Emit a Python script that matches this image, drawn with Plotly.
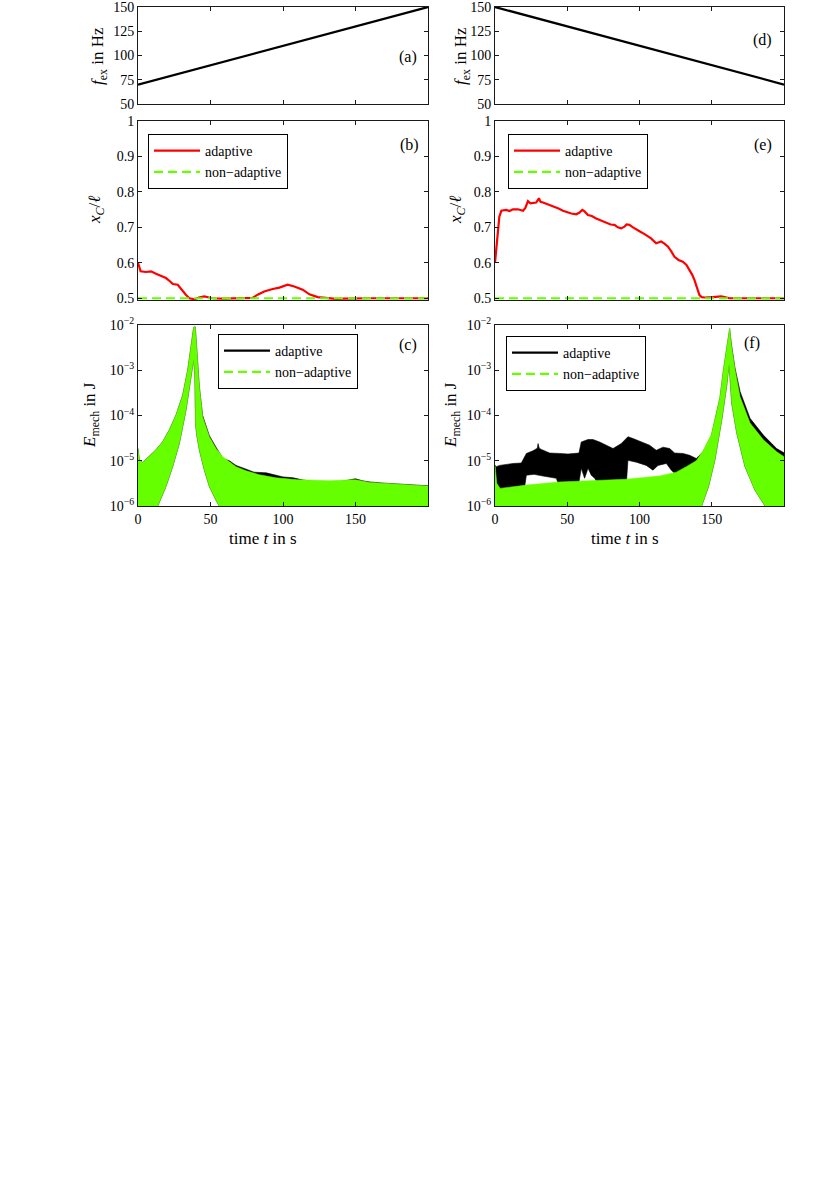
import plotly.graph_objects as go

# ---------------- data ----------------
t_sweep = [0, 200]
f_up = [70, 150]
f_down = [150, 70]

t_nonad = [0, 200]
xc_nonad = [0.5, 0.5]

t_xc_b = [0, 1.8, 5.5, 9, 12.4, 15.9, 19.3, 22, 24, 27.4, 30.8, 33, 35.4, 38.9, 42, 45.7, 49,
          51.5, 58.4, 67.6, 75, 79, 82.5, 87, 92.9, 97.5, 103.2, 107.8, 113.6, 118.2, 123.9,
          129.7, 136.6, 142, 148, 159.5, 175, 200]
xc_b = [0.600, 0.576, 0.574, 0.576, 0.569, 0.564, 0.557, 0.548, 0.540, 0.538, 0.519, 0.510,
        0.500, 0.497, 0.502, 0.505, 0.502, 0.500, 0.499, 0.499, 0.500, 0.501, 0.510, 0.519,
        0.526, 0.530, 0.538, 0.533, 0.524, 0.511, 0.503, 0.500, 0.498, 0.499, 0.500, 0.500,
        0.500, 0.500]

t_xc_e = [0, 1, 2, 3, 4.4, 7.8, 10, 12.4, 15.9, 19.4, 21, 22.8, 24.5, 26.3, 28.5, 30.4, 31.5,
          33.2, 36, 40, 44, 47, 50, 52.8, 56.2, 58.5, 60.4, 62, 64.3, 67, 70, 73, 77, 80, 82.7,
          85, 87.3, 89.6, 91, 93, 95.5, 97.7, 100, 103.5, 108, 111.5, 113, 115, 117, 119.6, 122,
          124.2, 127, 130, 132.5, 134.6, 136.5, 138, 140, 141.5, 143, 145, 150.7, 156.5, 159,
          162.2, 170, 200]
xc_e = [0.600, 0.650, 0.692, 0.730, 0.747, 0.749, 0.746, 0.751, 0.751, 0.747, 0.755, 0.774,
        0.768, 0.768, 0.770, 0.782, 0.772, 0.770, 0.766, 0.760, 0.753, 0.747, 0.742, 0.739,
        0.737, 0.742, 0.749, 0.745, 0.735, 0.732, 0.725, 0.720, 0.713, 0.708, 0.707, 0.700,
        0.697, 0.702, 0.708, 0.707, 0.700, 0.694, 0.689, 0.681, 0.669, 0.655, 0.657, 0.660,
        0.655, 0.646, 0.632, 0.617, 0.608, 0.603, 0.594, 0.580, 0.566, 0.552, 0.528, 0.509,
        0.503, 0.502, 0.503, 0.505, 0.503, 0.500, 0.500, 0.500]

# panel (c): envelopes of the mechanical energy
t_c_green_top = [0, 0.9, 3.2, 7.8, 12.4, 17, 21.6, 26.2, 30.8, 34.3, 36.6, 38.4, 39.5, 40.5,
                 42.3, 44.6, 49.2, 53.8, 58.4, 63, 67.6, 74.5, 83.7, 95, 110, 132, 150, 160,
                 180, 200]
E_c_green_top = [1.86e-5, 1.05e-5, 9.1e-6, 1.23e-5, 1.74e-5, 2.63e-5, 4.8e-5, 1.02e-4, 2.8e-4,
                 1.02e-3, 3.3e-3, 8.9e-3, 9.1e-3, 2.8e-3, 4.4e-4, 9.3e-5, 3.4e-5, 1.86e-5,
                 1.23e-5, 9.5e-6, 7.4e-6, 6.0e-6, 4.9e-6, 4.2e-6, 3.8e-6, 3.6e-6, 3.8e-6,
                 3.3e-6, 3.0e-6, 2.75e-6]
t_c_black_top = [0, 0.9, 3.2, 7.8, 12.4, 17, 21.6, 26.2, 30.8, 34.3, 36.6, 38.4, 39.5, 40.5,
                 42.3, 44.6, 49.2, 53.8, 58.6, 63, 67.6, 74.7, 80, 88.5, 95.4, 100, 107, 113,
                 120.7, 128, 134.5, 140, 145, 150, 155, 160, 170, 185, 200]
E_c_black_top = [1.86e-5, 1.05e-5, 9.1e-6, 1.23e-5, 1.74e-5, 2.63e-5, 4.8e-5, 1.02e-4, 2.8e-4,
                 1.02e-3, 3.3e-3, 8.9e-3, 9.1e-3, 2.8e-3, 4.4e-4, 1.0e-4, 3.6e-5, 2.0e-5,
                 1.12e-5, 1.0e-5, 7.9e-6, 6.5e-6, 5.6e-6, 5.4e-6, 4.7e-6, 4.4e-6, 4.2e-6,
                 3.8e-6, 3.5e-6, 3.4e-6, 3.2e-6, 3.5e-6, 3.7e-6, 4.0e-6, 3.6e-6, 3.4e-6,
                 3.2e-6, 2.95e-6, 2.8e-6]
t_c_bottom = [0, 13.6, 16.5, 19.3, 23.9, 28.5, 33.1, 36.6, 38.4, 39.2, 39.7, 40.6, 42.3, 45.7,
              49.2, 53.8, 56, 200]
E_c_bottom = [1e-6, 1e-6, 1.58e-6, 2.7e-6, 7.4e-6, 2.4e-5, 1.32e-4, 7.2e-4, 1.78e-3, 7.9e-4,
              6.3e-5, 3.55e-5, 1.74e-5, 6.3e-6, 2.7e-6, 1.35e-6, 1e-6, 1e-6]

# panel (f): envelopes of the mechanical energy
t_f_green_top = [0, 1.2, 3.5, 21.9, 44.8, 67.8, 91, 114, 125.5, 132.4, 139.3, 144, 149.7,
                 153.2, 155.7, 158, 160.6, 162.4, 163.6, 166.1, 169.6, 176.5, 185.7, 194.9, 200]
E_f_green_top = [8.1e-6, 3.2e-6, 2.45e-6, 2.9e-6, 3.4e-6, 3.6e-6, 3.9e-6, 4.6e-6, 5.6e-6,
                 7.4e-6, 1.0e-5, 1.66e-5, 3.8e-5, 1.12e-4, 2.6e-4, 1.0e-3, 4.0e-3, 8.5e-3,
                 3.55e-3, 1.02e-3, 2.6e-4, 6.8e-5, 2.9e-5, 1.58e-5, 1.23e-5]
t_f_green_bottom = [0, 143, 147.8, 152.2, 156.9, 160.3, 162.0, 162.6, 163.8, 167.3, 173,
                    179.9, 186.9, 200]
E_f_green_bottom = [1e-6, 1e-6, 2.7e-6, 1.05e-5, 7.9e-5, 4.4e-4, 1.4e-3, 7.2e-4, 1.86e-4,
                    4.1e-5, 7.4e-6, 2.24e-6, 1e-6, 1e-6]
t_f_black_top = [0, 0.9, 3.2, 7.8, 12.5, 18.2, 20, 21.7, 26.3, 29.3, 29.8, 30.6, 32.1, 37.8,
                 44.8, 50.5, 58.1, 59.7, 64.4, 67.8, 72.4, 77, 81.7, 87.4, 92, 95.5, 101.3, 107,
                 111.6, 116.3, 120.9, 124.3, 130.1, 134.7, 139.3, 142.8, 144, 149.7, 153.2,
                 155.7, 158, 160.6, 162.4, 163.6, 166.1, 169.6, 176.5, 185.7, 194.9, 200]
E_f_black_top = [8.1e-6, 7.4e-6, 7.9e-6, 8.3e-6, 8.7e-6, 8.9e-6, 1.12e-5, 1.45e-5, 1.66e-5,
                 1.9e-5, 2.4e-5, 1.9e-5, 1.78e-5, 1.48e-5, 1.45e-5, 1.41e-5, 1.48e-5, 2.6e-5,
                 2.95e-5, 2.95e-5, 2.6e-5, 2.2e-5, 1.86e-5, 2.4e-5, 3.4e-5, 3.1e-5, 2.6e-5,
                 2.2e-5, 1.7e-5, 2.0e-5, 1.86e-5, 1.48e-5, 1.45e-5, 1.32e-5, 1.12e-5, 1.45e-5,
                 1.58e-5, 3.55e-5, 1.07e-4, 2.5e-4, 9.5e-4, 3.8e-3, 8.3e-3, 3.8e-3, 1.12e-3,
                 3.4e-4, 8.7e-5, 3.7e-5, 1.86e-5, 1.5e-5]
t_f_black_bottom = [0, 20, 21.7, 27, 33.2, 42.4, 44, 58, 59.7, 62, 64.4, 66.6, 69, 71, 91, 92,
                    97.8, 104.7, 109.3, 112.8, 118.6, 122, 125, 130, 143, 147.8, 152.2, 156.9,
                    160.3, 162.0, 162.6, 163.8, 167.3, 173, 179.9, 186.9, 200]
E_f_black_bottom = [2.0e-6, 2.0e-6, 4.8e-6, 5.0e-6, 4.6e-6, 4.1e-6, 3.0e-6, 3.2e-6, 6.8e-6,
                    4.1e-6, 6.8e-6, 4.8e-6, 4.1e-6, 3.2e-6, 3.5e-6, 1.02e-5, 9.3e-6, 7.9e-6,
                    6.2e-6, 7.9e-6, 8.7e-6, 6.2e-6, 5.0e-6, 4.5e-6, 1e-6, 2.7e-6, 1.05e-5,
                    7.9e-5, 4.4e-4, 1.4e-3, 7.2e-4, 1.86e-4, 4.1e-5, 7.4e-6, 2.24e-6, 1e-6, 1e-6]

x_ticks = [0, 50, 100, 150]
f_ticks = [50, 75, 100, 125, 150]
xc_ticks = [0.5, 0.6, 0.7, 0.8, 0.9, 1.0]
xc_ticktext = ["0.5", "0.6", "0.7", "0.8", "0.9", "1"]
E_ticks = [1e-6, 1e-5, 1e-4, 1e-3, 1e-2]
E_ticktext = ["10<sup>−6</sup>", "10<sup>−5</sup>", "10<sup>−4</sup>", "10<sup>−3</sup>",
              "10<sup>−2</sup>"]
panel_labels = ["(a)", "(b)", "(c)", "(d)", "(e)", "(f)"]
legend_names = ["adaptive", "non−adaptive"]

# ---------------- layout helpers ----------------
W, H = 830, 1177
FONT = "'Liberation Serif', 'DejaVu Serif', serif"
RED = "#ff0000"
GREEN = "#66ff00"
AX = "#1a1a1a"


def px(x):
    return x / W


def py(y):
    return 1 - y / H


cols = {"L": (138, 428), "R": (495, 784)}
rows = {"top": (7, 104), "mid": (121, 300), "bot": (325, 506)}

fig = go.Figure()

panels = {1: ("L", "top"), 2: ("L", "mid"), 3: ("L", "bot"),
          4: ("R", "top"), 5: ("R", "mid"), 6: ("R", "bot")}


def ax_names(i):
    return ("x" if i == 1 else f"x{i}"), ("y" if i == 1 else f"y{i}")


def band(i, t_top, e_top, t_bot, e_bot, color):
    xa, ya = ax_names(i)
    fig.add_trace(go.Scatter(
        x=list(t_top) + list(t_bot)[::-1], y=list(e_top) + list(e_bot)[::-1],
        mode="lines", fill="toself", fillcolor=color,
        line=dict(color=color, width=0.6), xaxis=xa, yaxis=ya,
        showlegend=False, hoverinfo="skip"))


def legend_entry(i, name, color, dash, legend):
    xa, ya = ax_names(i)
    fig.add_trace(go.Scatter(
        x=[None], y=[None], mode="lines", name=name,
        line=dict(color=color, width=2.2, dash=dash),
        xaxis=xa, yaxis=ya, legend=legend, showlegend=True))


# (a) and (d): excitation frequency
for i, f in ((1, f_up), (4, f_down)):
    xa, ya = ax_names(i)
    fig.add_trace(go.Scatter(x=t_sweep, y=f, mode="lines",
                             line=dict(color="black", width=2.2),
                             xaxis=xa, yaxis=ya, showlegend=False))

# (b) and (e): x_C / l
for i, tt, vv, lg in ((2, t_xc_b, xc_b, "legend"), (5, t_xc_e, xc_e, "legend3")):
    xa, ya = ax_names(i)
    fig.add_trace(go.Scatter(x=tt, y=vv, mode="lines", name=legend_names[0],
                             line=dict(color=RED, width=2.2),
                             xaxis=xa, yaxis=ya, legend=lg))
    fig.add_trace(go.Scatter(x=t_nonad, y=xc_nonad, mode="lines", name=legend_names[1],
                             line=dict(color=GREEN, width=2.2, dash="9px,5px"),
                             xaxis=xa, yaxis=ya, legend=lg))

# (c) energy
band(3, t_c_black_top, E_c_black_top, t_c_bottom, E_c_bottom, "black")
band(3, t_c_green_top, E_c_green_top, t_c_bottom, E_c_bottom, GREEN)
legend_entry(3, legend_names[0], "black", "solid", "legend2")
legend_entry(3, legend_names[1], GREEN, "9px,5px", "legend2")

# (f) energy
band(6, t_f_black_top, E_f_black_top, t_f_black_bottom, E_f_black_bottom, "black")
band(6, t_f_green_top, E_f_green_top, t_f_green_bottom, E_f_green_bottom, GREEN)
legend_entry(6, legend_names[0], "black", "solid", "legend4")
legend_entry(6, legend_names[1], GREEN, "9px,5px", "legend4")

layout = dict(
    width=W, height=H, margin=dict(l=0, r=0, t=0, b=0),
    paper_bgcolor="white", plot_bgcolor="white",
    font=dict(family=FONT, size=14, color="black"),
    showlegend=True,
)

for i, (c, r) in panels.items():
    xa, ya = ax_names(i)
    xkey = "xaxis" if i == 1 else f"xaxis{i}"
    ykey = "yaxis" if i == 1 else f"yaxis{i}"
    x0, x1 = cols[c]
    y0, y1 = rows[r]
    common = dict(showline=True, linecolor=AX, linewidth=1, mirror="ticks",
                  ticks="inside", ticklen=4, tickcolor=AX, showgrid=False, zeroline=False,
                  tickfont=dict(family=FONT, size=14, color="black"), automargin=False,
                  ticklabeloverflow="allow")
    layout[xkey] = dict(domain=[px(x0), px(x1)], anchor=ya, range=[0, 200],
                        tickvals=x_ticks, showticklabels=(r == "bot"), **common)
    if r == "top":
        ydict = dict(range=[50, 150.001], tickvals=f_ticks)
    elif r == "mid":
        ydict = dict(range=[0.495, 1.0001], tickvals=xc_ticks, ticktext=xc_ticktext)
    else:
        ydict = dict(type="log", range=[-6, -1.9999], tickvals=E_ticks, ticktext=E_ticktext)
    layout[ykey] = dict(domain=[py(y1), py(y0)], anchor=xa, **ydict, **common)

leg_common = dict(xanchor="left", yanchor="top", bgcolor="white", bordercolor="black",
                  borderwidth=1, font=dict(family=FONT, size=14, color="black"),
                  tracegroupgap=0, itemclick=False, itemwidth=46)
layout["legend"] = dict(x=px(148), y=py(134), **leg_common)
layout["legend2"] = dict(x=px(218), y=py(334), **leg_common)
layout["legend3"] = dict(x=px(508), y=py(134), **leg_common)
layout["legend4"] = dict(x=px(506), y=py(336), **leg_common)

annotations = []
label_pos = [(407.5, 57), (409, 145), (408, 345), (762.5, 40), (763, 145), (752, 343)]
for lab, (x, y) in zip(panel_labels, label_pos):
    annotations.append(dict(text=lab, x=px(x), y=py(y), xref="paper", yref="paper",
                            showarrow=False, xanchor="center", yanchor="middle",
                            font=dict(family=FONT, size=16, color="black")))
ytitles = ["<i>f</i><sub>ex</sub> in Hz", "<i>x</i><sub><i>C</i></sub>/<i>ℓ</i>",
           "<i>E</i><sub>mech</sub> in J"]
ytitle_pos = [(99, 56), (96, 210), (91, 415), (462, 56), (457, 210), (452, 415)]
for k, (x, y) in enumerate(ytitle_pos):
    annotations.append(dict(text=ytitles[k % 3], x=px(x), y=py(y), xref="paper",
                            yref="paper", showarrow=False, textangle=-90,
                            xanchor="center", yanchor="middle",
                            font=dict(family=FONT, size=17, color="black")))
for x in (263, 625):
    annotations.append(dict(text="time <i>t</i> in s", x=px(x), y=py(538), xref="paper",
                            yref="paper", showarrow=False, xanchor="center",
                            yanchor="middle", font=dict(family=FONT, size=17, color="black")))
layout["annotations"] = annotations

fig.update_layout(**layout)
# remove the browser's default 8 px page margin so the figure fills the window exactly
fig.write_html("out.html", config={"displayModeBar": False},
               post_script="document.body.style.margin='0';")
